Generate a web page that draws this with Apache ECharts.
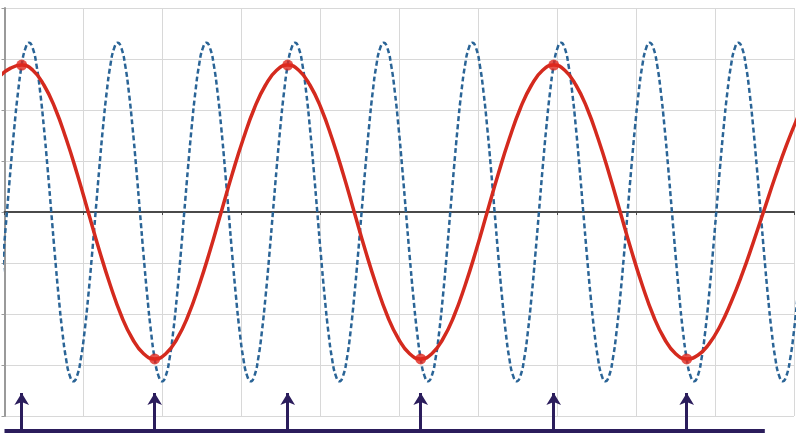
<!DOCTYPE html>
<html><head><meta charset="utf-8">
<script src="https://cdn.jsdelivr.net/npm/echarts@6/dist/echarts.min.js"></script>
<style>html,body{margin:0;padding:0;background:#fff}#c{width:800px;height:437px}</style>
</head><body><div id="c"></div>
<script>
// x axis: 1 unit = 1/12 of the dashed wave's period
const X_MIN = 0, X_MAX = 106.85, X_GRID = 10.685;
const Y_MIN = -4, Y_MAX = 4, Y_GRID = 1;

// dashed blue wave, values read every 0.5 x-unit starting at BLUE_X_START
const BLUE_X_START = -0.67, BLUE_X_STEP = 0.5;
const blueY = [
  -1.66, -0.86, 0, 0.86, 1.66, 2.35, 2.88, 3.21, 3.32, 3.21, 2.88, 2.35, 1.66, 0.86, 0, -0.86, -1.66, -2.35, -2.88, -3.21, -3.32, -3.21, -2.88, -2.35,
  -1.66, -0.86, 0, 0.86, 1.66, 2.35, 2.88, 3.21, 3.32, 3.21, 2.88, 2.35, 1.66, 0.86, 0, -0.86, -1.66, -2.35, -2.88, -3.21, -3.32, -3.21, -2.88, -2.35,
  -1.66, -0.86, 0, 0.86, 1.66, 2.35, 2.88, 3.21, 3.32, 3.21, 2.88, 2.35, 1.66, 0.86, 0, -0.86, -1.66, -2.35, -2.88, -3.21, -3.32, -3.21, -2.88, -2.35,
  -1.66, -0.86, 0, 0.86, 1.66, 2.35, 2.88, 3.21, 3.32, 3.21, 2.88, 2.35, 1.66, 0.86, 0, -0.86, -1.66, -2.35, -2.88, -3.21, -3.32, -3.21, -2.88, -2.35,
  -1.66, -0.86, 0, 0.86, 1.66, 2.35, 2.88, 3.21, 3.32, 3.21, 2.88, 2.35, 1.66, 0.86, 0, -0.86, -1.66, -2.35, -2.88, -3.21, -3.32, -3.21, -2.88, -2.35,
  -1.66, -0.86, 0, 0.86, 1.66, 2.35, 2.88, 3.21, 3.32, 3.21, 2.88, 2.35, 1.66, 0.86, 0, -0.86, -1.66, -2.35, -2.88, -3.21, -3.32, -3.21, -2.88, -2.35,
  -1.66, -0.86, 0, 0.86, 1.66, 2.35, 2.88, 3.21, 3.32, 3.21, 2.88, 2.35, 1.66, 0.86, 0, -0.86, -1.66, -2.35, -2.88, -3.21, -3.32, -3.21, -2.88, -2.35,
  -1.66, -0.86, 0, 0.86, 1.66, 2.35, 2.88, 3.21, 3.32, 3.21, 2.88, 2.35, 1.66, 0.86, 0, -0.86, -1.66, -2.35, -2.88, -3.21, -3.32, -3.21, -2.88, -2.35,
  -1.66, -0.86, 0, 0.86, 1.66, 2.35, 2.88, 3.21, 3.32, 3.21, 2.88, 2.35, 1.66, 0.86, 0, -0.86, -1.66, -2.35, -2.88, -3.21, -3.32, -3.21, -2.88, -2.35,
  -1.66
];

// solid red wave, values read every 1.5 x-units starting at RED_X_START
const RED_X_START = -3.67, RED_X_STEP = 1.5;
const redY = [
  2.04, 2.39, 2.66, 2.82,
  2.88, 2.78, 2.49, 2.04, 1.44, 0.75, 0, -0.75, -1.44, -2.04, -2.49, -2.78, -2.88, -2.78, -2.49, -2.04, -1.44, -0.75, 0, 0.75, 1.44, 2.04, 2.49, 2.78,
  2.88, 2.78, 2.49, 2.04, 1.44, 0.75, 0, -0.75, -1.44, -2.04, -2.49, -2.78, -2.88, -2.78, -2.49, -2.04, -1.44, -0.75, 0, 0.75, 1.44, 2.04, 2.49, 2.78,
  2.88, 2.78, 2.49, 2.04, 1.44, 0.75, 0, -0.75, -1.44, -2.04, -2.49, -2.78, -2.88,
  -2.81, -2.59, -2.24, -1.77, -1.22, -0.60, 0.05, 0.70, 1.31, 1.85
];

// sample instants (red dots and arrows)
const sampleX = [2.33, 20.33, 38.33, 56.33, 74.33, 92.33];
const sampleY = [2.88, -2.88, 2.88, -2.88, 2.88, -2.88];

// bottom time-axis line extent
const baseLineX = [0, 102.9];

const blueData = blueY.map((y, i) => [BLUE_X_START + i * BLUE_X_STEP, y]);
const redData = redY.map((y, i) => [RED_X_START + i * RED_X_STEP, y]);
const dotData = sampleX.map((x, i) => [x, sampleY[i]]);

const chart = echarts.init(document.getElementById('c'), null, {renderer: 'canvas'});
chart.setOption({
  animation: false,
  backgroundColor: '#ffffff',
  grid: [
    {left: 4.5, right: 6, top: 8, bottom: 21, containLabel: false},
    {left: 4.5, right: 6, top: 393, bottom: 6, containLabel: false}
  ],
  xAxis: [
    {
      type: 'value', gridIndex: 0, min: X_MIN, max: X_MAX, interval: X_GRID,
      axisLine: {show: true, onZero: true, lineStyle: {color: '#4a4a4a', width: 2}},
      axisTick: {show: true, length: 3, lineStyle: {color: '#4a4a4a'}},
      axisLabel: {show: false},
      splitLine: {show: true, lineStyle: {color: '#d8d8d8', width: 1}}
    },
    {
      type: 'value', gridIndex: 1, min: X_MIN, max: X_MAX,
      axisLine: {show: false}, axisTick: {show: false}, axisLabel: {show: false}, splitLine: {show: false}
    }
  ],
  yAxis: [
    {
      type: 'value', gridIndex: 0, min: Y_MIN, max: Y_MAX, interval: Y_GRID,
      axisLine: {show: true, onZero: false, lineStyle: {color: '#9a9a9a', width: 2}},
      axisTick: {show: true, length: 3, lineStyle: {color: '#9a9a9a'}},
      axisLabel: {show: false},
      splitLine: {show: true, lineStyle: {color: '#d8d8d8', width: 1}}
    },
    {
      type: 'value', gridIndex: 1, min: 0, max: 1,
      axisLine: {show: false}, axisTick: {show: false}, axisLabel: {show: false}, splitLine: {show: false}
    }
  ],
  series: [
    {
      type: 'line', xAxisIndex: 0, yAxisIndex: 0, data: blueData, smooth: true,
      showSymbol: false, symbol: 'none',
      lineStyle: {color: '#2a6496', width: 2.5, type: [5, 3]}, z: 2
    },
    {
      type: 'line', xAxisIndex: 0, yAxisIndex: 0, data: redData, smooth: true,
      showSymbol: false, symbol: 'none',
      lineStyle: {color: '#d42a1e', width: 3.5}, z: 3
    },
    {
      type: 'scatter', xAxisIndex: 0, yAxisIndex: 0, data: dotData,
      symbolSize: 11, itemStyle: {color: '#e0281e'}, z: 4
    },
    {
      type: 'line', xAxisIndex: 1, yAxisIndex: 1, data: baseLineX.map(x => [x, 0]),
      symbol: 'none', clip: false,
      lineStyle: {color: '#2b1d5c', width: 4},
      markLine: {
        silent: true, animation: false,
        symbol: ['none', 'arrow'], symbolSize: [11, 12],
        label: {show: false},
        lineStyle: {color: '#2b1d5c', width: 3, type: 'solid'},
        data: sampleX.map(x => [{coord: [x, 0]}, {coord: [x, 1]}])
      }
    }
  ]
});
</script>
</body></html>
